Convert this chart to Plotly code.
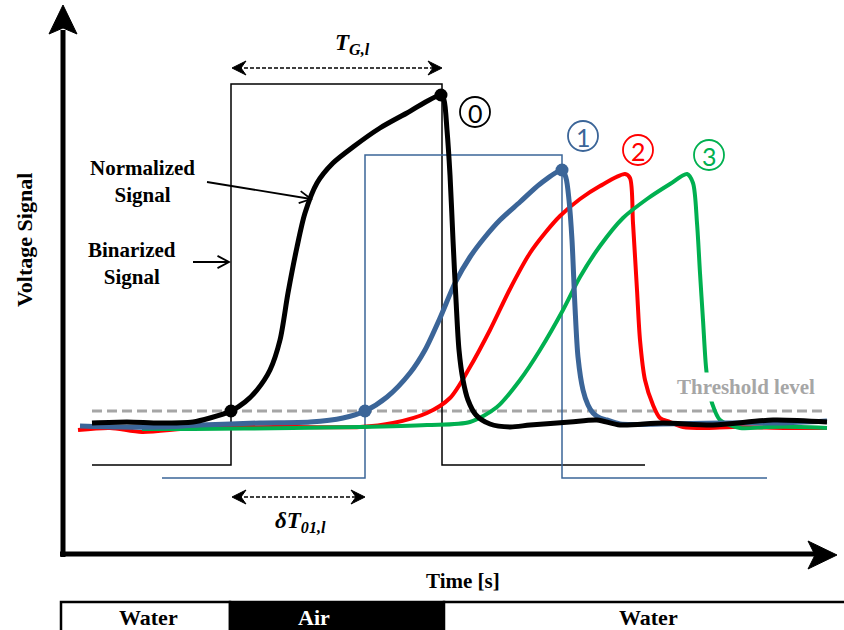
import math
import plotly.graph_objects as go

W, H = 844, 630

# ---- Data (time axis in screen-like units, voltage axis downward-positive) ----
# Normalized signal, probe 0 (black)
t_sig0 = [92, 127, 160, 193, 210, 231, 245, 257, 270, 280, 288, 297, 305, 317, 333, 353, 380, 407, 441,
          444, 447, 450, 453, 456, 459, 463, 468, 476, 490, 510, 530, 570, 597, 620, 663, 713, 773, 827]
v_sig0 = [423, 422, 423, 422, 418, 411, 402, 390, 370, 340, 293, 247, 213, 183, 163, 147, 128, 113, 95,
          100, 130, 175, 240, 300, 350, 380, 400, 415, 424, 427, 425, 422, 420, 425, 423, 425, 420, 422]

# Normalized signal, probe 1 (blue)
t_sig1 = [80, 120, 160, 200, 260, 310, 343, 365, 387, 410, 425, 440, 455, 470, 485, 500, 520, 540, 562,
          566, 569, 572, 575, 578, 583, 588, 593, 600, 607, 620, 660, 720, 780, 827]
v_sig1 = [426, 427, 427, 425, 423, 422, 418, 411, 397, 373, 350, 318, 283, 257, 237, 220, 202, 184, 170,
          178, 200, 240, 307, 357, 390, 405, 413, 418, 420, 424, 424, 423, 423, 421]

# Normalized signal, probe 2 (red)
t_sig2 = [78, 110, 142, 193, 293, 360, 393, 427, 450, 470, 490, 510, 530, 545, 560, 580, 600, 625, 630,
          633, 637, 640, 645, 653, 660, 670, 683, 707, 733, 787, 827]
v_sig2 = [430, 428, 432, 428, 427, 427, 423, 413, 398, 367, 330, 289, 253, 233, 216, 199, 186, 174, 178,
          223, 290, 340, 380, 405, 418, 422, 427, 428, 427, 428, 428]

# Normalized signal, probe 3 (green)
t_sig3 = [142, 193, 293, 360, 427, 470, 497, 520, 540, 563, 580, 600, 623, 647, 670, 687, 693,
          697, 700, 703, 706, 709, 712, 720, 740, 767, 800, 827]
v_sig3 = [429, 429, 428, 427, 425, 422, 407, 380, 350, 310, 277, 246, 218, 199, 184, 174, 183,
          223, 273, 320, 367, 390, 403, 420, 428, 427, 427, 428]

# Binarized signals
t_bin0 = [92, 231, 231, 442, 442, 645]
v_bin0 = [465, 465, 84, 84, 465, 465]
t_bin1 = [162, 365, 365, 562, 562, 767]
v_bin1 = [478, 478, 155, 155, 478, 478]

# Threshold level
t_thr = [92, 827]
v_thr = [411, 411]

# Marked points
t_dot0 = [231, 441]
v_dot0 = [411, 95]
t_dot1 = [365, 562]
v_dot1 = [411, 170]

# Probe labels (circled numbers)
probe_labels = ["0", "1", "2", "3"]
probe_cx = [475, 583, 638, 709]
probe_cy = [112, 136, 150, 155]

# Phase bar
phase_names = ["Water", "Air", "Water"]
phase_start = [61, 230, 444]
phase_end = [230, 444, 846]
phase_label_x = [148, 314, 648]

BLACK = "#000000"
BLUE = "#3B6598"
RED = "#FF0000"
GREEN = "#00B050"
GRAY = "#A6A6A6"
SERIF = "Liberation Serif, Times New Roman, DejaVu Serif, serif"

fig = go.Figure()

# threshold
fig.add_trace(go.Scatter(x=t_thr, y=v_thr, mode="lines",
                         line=dict(color=GRAY, width=3, dash="10px,5px"), hoverinfo="skip"))
# binarized
fig.add_trace(go.Scatter(x=t_bin0, y=v_bin0, mode="lines",
                         line=dict(color=BLACK, width=1.5), hoverinfo="skip"))
fig.add_trace(go.Scatter(x=t_bin1, y=v_bin1, mode="lines",
                         line=dict(color=BLUE, width=1.5), hoverinfo="skip"))
# normalized
for tx, vy, col, w in [(t_sig2, v_sig2, RED, 4), (t_sig3, v_sig3, GREEN, 4),
                       (t_sig1, v_sig1, BLUE, 5), (t_sig0, v_sig0, BLACK, 5)]:
    fig.add_trace(go.Scatter(x=tx, y=vy, mode="lines",
                             line=dict(color=col, width=w, shape="spline", smoothing=0.8),
                             hoverinfo="skip"))
fig.add_trace(go.Scatter(x=t_dot0, y=v_dot0, mode="markers",
                         marker=dict(color=BLACK, size=13), hoverinfo="skip"))
fig.add_trace(go.Scatter(x=t_dot1, y=v_dot1, mode="markers",
                         marker=dict(color=BLUE, size=13), hoverinfo="skip"))

shapes = []
# axes
shapes.append(dict(type="line", x0=63, y0=557, x1=63, y1=30, line=dict(color=BLACK, width=5)))
shapes.append(dict(type="line", x0=60, y0=554, x1=815, y1=554, line=dict(color=BLACK, width=5)))
shapes.append(dict(type="path", path="M 63 5 L 77 34 L 63 28 L 49 34 Z",
                   fillcolor=BLACK, line=dict(color=BLACK, width=1)))
shapes.append(dict(type="path", path="M 837 555 L 808 541 L 815 555 L 808 569 Z",
                   fillcolor=BLACK, line=dict(color=BLACK, width=1)))


def dbl_arrow(x0, x1, y):
    shapes.append(dict(type="line", x0=x0 + 6, y0=y, x1=x1 - 6, y1=y,
                       line=dict(color=BLACK, width=1.5, dash="4px,2px")))
    shapes.append(dict(type="path",
                       path=f"M {x0} {y} L {x0+14} {y-7} L {x0+9} {y} L {x0+14} {y+7} Z",
                       fillcolor=BLACK, line=dict(color=BLACK, width=1)))
    shapes.append(dict(type="path",
                       path=f"M {x1} {y} L {x1-14} {y-7} L {x1-9} {y} L {x1-14} {y+7} Z",
                       fillcolor=BLACK, line=dict(color=BLACK, width=1)))


dbl_arrow(232, 442, 68)
dbl_arrow(232, 365, 497)


def open_arrow(x0, y0, x1, y1, size=13, ang=28):
    shapes.append(dict(type="line", x0=x0, y0=y0, x1=x1, y1=y1, line=dict(color=BLACK, width=1.8)))
    dx, dy = x1 - x0, y1 - y0
    n = math.hypot(dx, dy)
    ux, uy = dx / n, dy / n
    pts = []
    for s in (1, -1):
        a = math.radians(ang) * s
        rx = ux * math.cos(a) - uy * math.sin(a)
        ry = ux * math.sin(a) + uy * math.cos(a)
        pts.append((x1 - size * rx, y1 - size * ry))
    shapes.append(dict(type="path",
                       path=f"M {pts[0][0]:.1f} {pts[0][1]:.1f} L {x1} {y1} L {pts[1][0]:.1f} {pts[1][1]:.1f}",
                       line=dict(color=BLACK, width=1.8)))


open_arrow(207, 182, 311, 199)
open_arrow(193, 262, 229, 262)

# circled probe numbers
probe_cols = [BLACK, BLUE, RED, GREEN]
for cx, cy, col in zip(probe_cx, probe_cy, probe_cols):
    shapes.append(dict(type="circle", x0=cx - 15, x1=cx + 15, y0=cy - 15, y1=cy + 15,
                       line=dict(color=col, width=1.8)))

# phase bar
for nm, s, e in zip(phase_names, phase_start, phase_end):
    shapes.append(dict(type="rect", x0=s, x1=e, y0=602, y1=645,
                       fillcolor=BLACK if nm == "Air" else "white",
                       line=dict(color=BLACK, width=2.5)))

annotations = []


def txt(x, y, text, size=21, color=BLACK, family=SERIF, **kw):
    annotations.append(dict(x=x, y=y, xref="x", yref="y", text=text, showarrow=False,
                            font=dict(family=family, size=size, color=color), **kw))


txt(352, 44, "<b><i>T<sub>G,l</sub></i></b>", size=23)
txt(300, 522, "<b><i>δT<sub>01,l</sub></i></b>", size=23)
txt(142, 181, "<b>Normalized<br>Signal</b>", size=21)
txt(132, 263, "<b>Binarized<br>Signal</b>", size=21)
txt(746, 387, "<b>Threshold level</b>", size=21, color=GRAY, bgcolor="white", borderpad=2)
txt(24, 240, "<b>Voltage Signal</b>", size=22, textangle=-90)
txt(463, 581, "<b>Time [s]</b>", size=21)
for nm, lx in zip(phase_names, phase_label_x):
    txt(lx, 617, f"<b>{nm}</b>", size=22, color="white" if nm == "Air" else BLACK)
for lab, cx, cy, col in zip(probe_labels, probe_cx, probe_cy, probe_cols):
    txt(cx, cy + 1, lab, size=25, color=col, family="Lato, Open Sans, sans-serif")

fig.update_layout(
    width=W, height=H,
    margin=dict(l=0, r=0, t=0, b=0),
    paper_bgcolor="white", plot_bgcolor="white",
    showlegend=False,
    xaxis=dict(range=[0, W], visible=False, fixedrange=True),
    yaxis=dict(range=[H, 0], visible=False, fixedrange=True),
    shapes=shapes, annotations=annotations,
)

fig.write_html("out.html", config={"displayModeBar": False},
               post_script="document.body.style.margin='0';document.body.style.overflow='hidden';")
